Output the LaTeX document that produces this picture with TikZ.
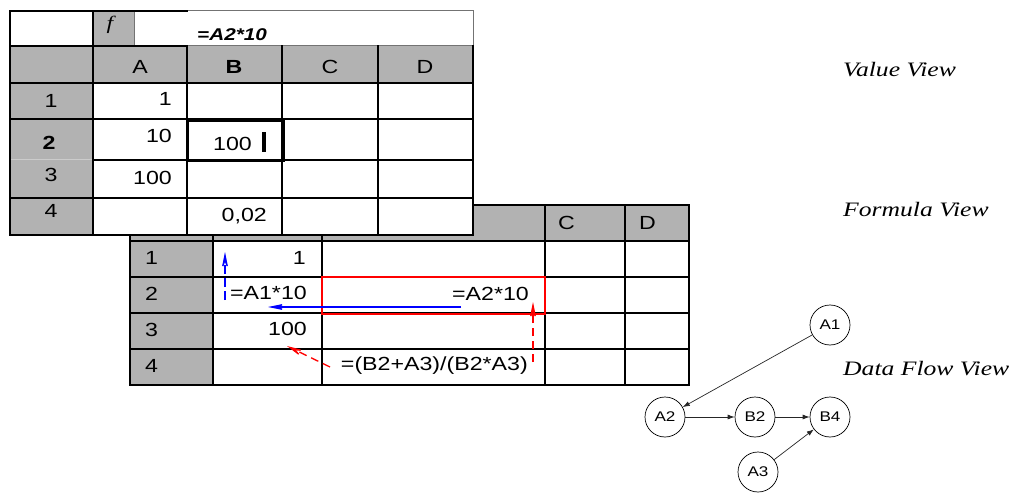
\documentclass[tikz,border=0pt]{standalone}
\usepackage{fontspec}
\setmainfont{Liberation Serif}[FakeStretch=1.25]
\newfontfamily\sheetfont{Liberation Sans}[FakeStretch=1.22]
\usetikzlibrary{arrows.meta}

\tikzset{
  hdrfill/.style={fill=black!30},
  gridline/.style={line width=2pt,line cap=rect},
  thinline/.style={black!55,line width=1pt},
  valtext/.style={font=\sheetfont\fontsize{19}{19}\selectfont,inner sep=0pt},
  viewlabel/.style={font=\itshape\fontsize{20.5}{20.5}\selectfont,anchor=base west,inner sep=0pt},
  cellnode/.style={draw,circle,minimum size=40pt,inner sep=0pt,line width=0.7pt,font=\sheetfont\fontsize{14}{14}\selectfont},
  flow/.style={black!85,line width=0.7pt,-{Latex[length=7pt,width=5pt]}},
  ref/.style={line width=1.3pt,-{Stealth[length=22pt,width=9pt,inset=12pt]}},
}

\begin{document}
\begin{tikzpicture}[x=1pt,y=-1pt]
\useasboundingbox (0,0) rectangle (1019,494);

\fill[hdrfill] (130,205) rectangle (689,241);
\fill[hdrfill] (130,241) rectangle (213,385);
\foreach \y in {205,241,277,313,349,385}
  \draw[gridline] (130,\y) -- (689,\y);
\foreach \x in {130,213,322,545,625,689}
  \draw[gridline] (\x,205) -- (\x,385);
\foreach \r/\y in {1/258,2/294,3/330,4/366}
  \node[valtext,anchor=west] (frow\r) at (145,\y) {\r};
\node[valtext,anchor=west] (fcolC) at (558,223) {C};
\node[valtext,anchor=west] (fcolD) at (639,223) {D};
\node[valtext,anchor=base east] (fA1) at (306,264) {1};
\node[valtext,anchor=base east] (fA2) at (307,299) {=A1*10};
\node[valtext,anchor=base east] (fA3) at (307,335) {100};
\node[valtext,anchor=base east] (fB2) at (529,300) {=A2*10};
\node[valtext,anchor=base east] (fB4) at (528,370) {=(B2+A3)/(B2*A3)};
\draw[red,line width=2pt] (322,277) rectangle (545,314);

\coordinate (useB2) at (461,307);
\coordinate (defA2) at (268,307);
\coordinate (useA2) at (225,300);
\coordinate (defA1) at (225,252);
\coordinate (useB4a) at (533,362);
\coordinate (defB2) at (533,302);
\coordinate (useB4b) at (330,367);
\coordinate (defA3) at (287,346);
\draw[ref,blue] (useB2) -- (defA2);
\draw[ref,blue,dash pattern=on 9pt off 4pt] (useA2) -- (defA1);
\draw[ref,red,dash pattern=on 8pt off 5pt] (useB4a) -- (defB2);
\draw[ref,red,dash pattern=on 8pt off 5pt] (useB4b) -- (defA3);

\fill[white] (10,11) rectangle (473,235);
\fill[hdrfill] (10,46) rectangle (473,83);
\fill[hdrfill] (10,83) rectangle (93,235);
\fill[hdrfill] (93,11) rectangle (134,46);
\draw[thinline] (187,11) -- (473,11) -- (473,46) -- (187,46);
\draw[thinline] (134,11) -- (134,46);
\draw[gridline] (187,11) -- (10,11) -- (10,235);
\draw[gridline] (93,11) -- (93,235);
\draw[gridline] (10,46) -- (187,46);
\foreach \x in {187,282,378,473}
  \draw[gridline] (\x,46) -- (\x,235);
\foreach \y in {83,119,198,235}
  \draw[gridline] (10,\y) -- (473,\y);
\draw[gridline] (93,160) -- (473,160);
\draw[white!80!black,line width=1pt] (11,160) -- (92,160);
\draw[line width=3pt] (187,121) rectangle (283,161);

\node[font=\itshape\fontsize{19}{19}\selectfont,inner sep=0pt] (fx) at (110,25) {f};
\node[font=\sheetfont\bfseries\itshape\fontsize{17}{17}\selectfont,anchor=base west,inner sep=0pt] (fbar) at (197,41) {=A2*10};
\node[valtext] (vcolA) at (140,67) {A};
\node[valtext,font=\sheetfont\bfseries\fontsize{19}{19}\selectfont] (vcolB) at (234,67) {B};
\node[valtext] (vcolC) at (330,67) {C};
\node[valtext] (vcolD) at (425,67) {D};
\node[valtext] (vrow1) at (51,101) {1};
\node[valtext,font=\sheetfont\bfseries\fontsize{19}{19}\selectfont] (vrow2) at (49,143) {2};
\node[valtext] (vrow3) at (51,175) {3};
\node[valtext] (vrow4) at (51,211) {4};
\node[valtext,anchor=base east] (vA1) at (172,106) {1};
\node[valtext,anchor=base east] (vA2) at (172,143) {10};
\node[valtext,anchor=base east] (vA3) at (172,185) {100};
\node[valtext,anchor=base east] (vB2) at (252,151) {100};
\node[valtext,anchor=base east] (vB4) at (267,222) {0,02};
\fill (262,132) rectangle (266,152);

\node[viewlabel] (valueview) at (843,77) {Value View};
\node[viewlabel] (formulaview) at (843,217) {Formula View};
\node[viewlabel] (flowview) at (843,375) {Data Flow View};

\node[cellnode] (A1) at (830,325) {A1};
\node[cellnode] (A2) at (665,417) {A2};
\node[cellnode] (B2) at (755,417) {B2};
\node[cellnode] (B4) at (830,417) {B4};
\node[cellnode] (A3) at (758,472) {A3};
\draw[flow] (A1) -- (A2);
\draw[flow] (A2) -- (B2);
\draw[flow] (B2) -- (B4);
\draw[flow] (A3) -- (B4);
\end{tikzpicture}
\end{document}
